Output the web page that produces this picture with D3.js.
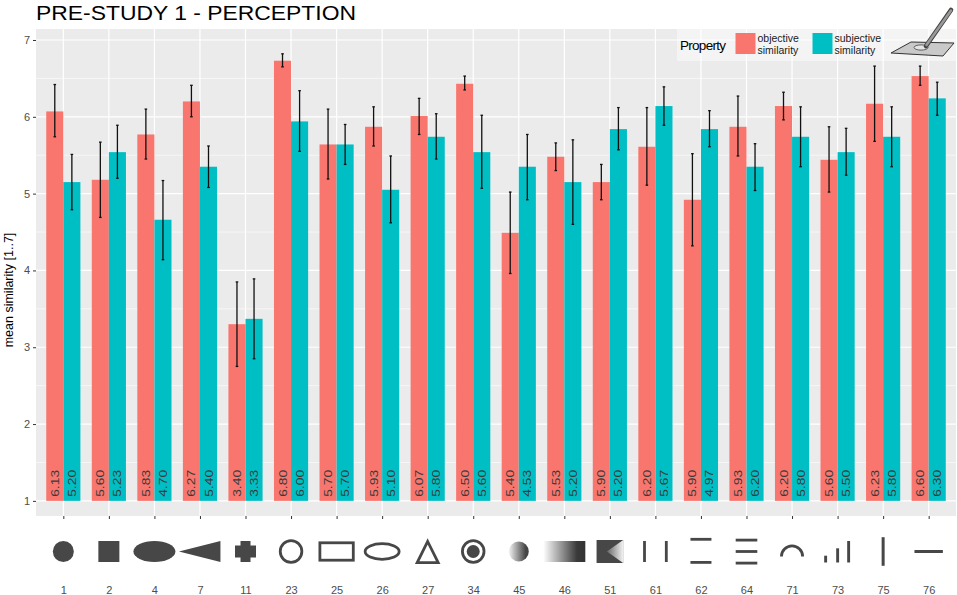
<!DOCTYPE html>
<html>
<head>
<meta charset="utf-8">
<script src="https://cdn.jsdelivr.net/npm/d3@7"></script>
<style>
  body { margin: 0; background: #fff; }
  text { font-family: "Liberation Sans", Arial, sans-serif; }
</style>
</head>
<body>
<svg id="chart" width="957" height="595"></svg>
<script>

// data ------------------------------------------------------
var categories = ["1","2","4","7","11","23","25","26","27","34","45","46","51","61","62","64","71","73","75","76"]

var objMean  = [6.07,5.18,5.77,6.20,3.30,6.73,5.64,5.87,6.01,6.43,4.49,5.48,5.15,5.61,4.92,5.87,6.14,5.44,6.17,6.53]
var objHigh  = [6.42,5.67,6.10,6.41,3.85,6.82,6.10,6.13,6.24,6.53,5.02,5.66,5.38,6.12,5.52,6.27,6.32,5.87,6.66,6.66]
var objLow   = [5.74,4.69,5.45,6.00,2.75,6.65,5.19,5.62,5.77,6.35,3.96,5.30,4.92,5.11,4.32,5.49,5.96,5.02,5.68,6.41]

var subjMean = [5.15,5.54,4.66,5.35,3.37,5.94,5.64,5.05,5.74,5.54,5.35,5.15,5.84,6.14,5.84,5.35,5.74,5.54,5.74,6.24]
var subjHigh = [5.51,5.89,5.17,5.62,3.89,6.34,5.90,5.49,6.04,6.02,5.77,5.70,6.12,6.39,6.08,5.65,6.13,5.85,6.13,6.45]
var subjLow  = [4.79,5.20,4.14,5.08,2.85,5.55,5.38,4.62,5.45,5.07,4.92,4.60,5.57,5.89,5.61,5.04,5.35,5.24,5.35,6.02]

var objLabel  = ["6.13","5.60","5.83","6.27","3.40","6.80","5.70","5.93","6.07","6.50","5.40","5.53","5.90","6.20","5.90","5.93","6.20","5.60","6.23","6.60"]
var subjLabel = ["5.20","5.23","4.70","5.40","3.33","6.00","5.70","5.10","5.80","5.60","4.53","5.20","5.20","5.67","4.97","6.20","5.80","5.50","5.80","6.30"]

var yTicks = [1,2,3,4,5,6,7]
var series = ["objective similarity", "subjective similarity"]

// shape glyph shown under each category
var glyphs = ["disc","square","ellipse","wedge","cross","ring","box","oval","triangle","target",
              "gradDisc","gradBar","notch","twoV","twoH","threeH","arc","steps","vline","hline"]

// -----------------------------------------------------------

var svg = d3.select("#chart")

var panel = {left: 36, right: 956, top: 29, bottom: 516}

var x = d3.scalePoint()
	.domain(categories)
	.range([panel.left, panel.right])
	.padding(0.6)

var y = d3.scaleLinear()
	.domain([0.803, 7.143])
	.range([panel.bottom, panel.top])

var color = d3.scaleOrdinal()
	.domain(series)
	.range(["#F8766D", "#00BFC4"])

var barW = x.step() * 0.375

var rows = categories.map((c, i) => ({
	cat: c,
	vals: [
		{s: series[0], mean: objMean[i], hi: objHigh[i], lo: objLow[i], lab: objLabel[i], off: -1},
		{s: series[1], mean: subjMean[i], hi: subjHigh[i], lo: subjLow[i], lab: subjLabel[i], off: 0}
	]
}))

// panel + grid
svg.append("rect")
	.attr("x", panel.left).attr("y", panel.top)
	.attr("width", panel.right - panel.left).attr("height", panel.bottom - panel.top)
	.attr("fill", "#EBEBEB")

var minor = d3.range(1.5, 7.5, 1)
svg.append("g").selectAll("line").data(minor).enter().append("line")
	.attr("x1", panel.left).attr("x2", panel.right)
	.attr("y1", d => y(d)).attr("y2", d => y(d))
	.attr("stroke", "#fff").attr("stroke-width", 0.6)

svg.append("g").selectAll("line").data(yTicks).enter().append("line")
	.attr("x1", panel.left).attr("x2", panel.right)
	.attr("y1", d => y(d)).attr("y2", d => y(d))
	.attr("stroke", "#fff").attr("stroke-width", 1.2)

svg.append("g").selectAll("line").data(categories).enter().append("line")
	.attr("x1", d => x(d)).attr("x2", d => x(d))
	.attr("y1", panel.top).attr("y2", panel.bottom)
	.attr("stroke", "#fff").attr("stroke-width", 1.2)

// bars
var group = svg.append("g").selectAll("g.cat")
	.data(rows)
	.enter().append("g")
	.attr("class", "cat")
	.attr("transform", d => `translate(${x(d.cat)},0)`)

group.selectAll("rect")
	.data(d => d.vals)
	.enter().append("rect")
	.attr("x", d => d.off * barW)
	.attr("width", barW)
	.attr("y", d => y(d.mean))
	.attr("height", d => y(1) - y(d.mean))
	.attr("fill", d => color(d.s))

// error bars
var err = group.selectAll("g.err")
	.data(d => d.vals)
	.enter().append("g")
	.attr("class", "err")
	.attr("transform", d => `translate(${d.off * barW + barW / 2},0)`)

err.append("line")
	.attr("y1", d => y(d.hi)).attr("y2", d => y(d.lo))
	.attr("stroke", "#111").attr("stroke-width", 1.3)
err.selectAll("line.cap")
	.data(d => [d.hi, d.lo])
	.enter().append("line")
	.attr("class", "cap")
	.attr("x1", -1.3).attr("x2", 1.3)
	.attr("y1", d => y(d)).attr("y2", d => y(d))
	.attr("stroke", "#111").attr("stroke-width", 1.3)

// value labels
group.selectAll("text.val")
	.data(d => d.vals)
	.enter().append("text")
	.attr("class", "val")
	.attr("transform", d => `translate(${d.off * barW + barW / 2 + 4},${y(1) - 4}) rotate(-90)`)
	.attr("font-size", 11.5)
	.attr("textLength", 27)
	.attr("lengthAdjust", "spacingAndGlyphs")
	.attr("fill", "#3a3a3a")
	.text(d => d.lab)

// y axis
var yAxis = svg.append("g")
	.attr("transform", `translate(${panel.left},0)`)
	.call(d3.axisLeft(y).tickValues(yTicks).tickSize(3).tickPadding(3).tickFormat(d3.format("d")))
yAxis.select(".domain").remove()
yAxis.selectAll("line").attr("stroke", "#333")
yAxis.selectAll("text").attr("fill", "#4D4D4D").attr("font-size", 11)
	.style("font-family", "Liberation Sans, Arial, sans-serif")

svg.append("text")
	.attr("transform", `translate(13,290) rotate(-90)`)
	.attr("text-anchor", "middle")
	.attr("font-size", 12.5)
	.attr("fill", "#000")
	.text("mean similarity [1..7]")

// x axis
var xAxis = svg.append("g")
	.attr("transform", `translate(0,${panel.bottom})`)
	.call(d3.axisBottom(x).tickSize(3).tickPadding(67))
xAxis.select(".domain").remove()
xAxis.selectAll("line").attr("stroke", "#333")
xAxis.selectAll("text").attr("fill", "#4D4D4D").attr("font-size", 11)
	.style("font-family", "Liberation Sans, Arial, sans-serif")

// glyph row
var defs = svg.append("defs")
var g1 = defs.append("linearGradient").attr("id", "fadeA")
g1.append("stop").attr("offset", "0%").attr("stop-color", "#f4f4f4")
g1.append("stop").attr("offset", "85%").attr("stop-color", "#444")
var g2 = defs.append("linearGradient").attr("id", "fadeB")
g2.append("stop").attr("offset", "0%").attr("stop-color", "#fff")
g2.append("stop").attr("offset", "80%").attr("stop-color", "#3a3a3a")
g2.append("stop").attr("offset", "100%").attr("stop-color", "#333")
var g3 = defs.append("linearGradient").attr("id", "fadeC")
g3.append("stop").attr("offset", "0%").attr("stop-color", "#666")
g3.append("stop").attr("offset", "100%").attr("stop-color", "#f2f2f2")

var ink = "#474747"
var cy = 551.5

function drawGlyph(sel, kind) {
	var stroke = {fill: "none", stroke: ink, "stroke-width": 2.8}
	var add = (tag, attrs) => {
		var e = sel.append(tag)
		Object.keys(attrs).forEach(k => e.attr(k, attrs[k]))
		return e
	}
	var bar = (x0, y0, w, h) => add("rect", {x: x0, y: y0, width: w, height: h, fill: ink})
	switch (kind) {
		case "disc": add("circle", {r: 10.5, fill: ink}); break
		case "square": bar(-10.5, -10.5, 21, 21); break
		case "ellipse": add("ellipse", {rx: 21, ry: 10.5, fill: ink}); break
		case "wedge": add("path", {d: "M-21,0L20.5,-10.5L20.5,10.5Z", fill: ink}); break
		case "cross":
			add("path", {d: "M-5,-10.5H5V-6H10.5V6H5V10.5H-5V6H-10.5V-6H-5Z", fill: ink}); break
		case "ring": add("circle", Object.assign({r: 10.8}, stroke)); break
		case "box": add("rect", Object.assign({x: -16.7, y: -8.7, width: 33.4, height: 17.4}, stroke)); break
		case "oval": add("ellipse", Object.assign({rx: 17, ry: 7.8}, stroke)); break
		case "triangle": add("path", Object.assign({d: "M0,-10L10.5,11.2L-10.5,11.2Z"}, stroke)); break
		case "target":
			add("circle", Object.assign({r: 10.8}, stroke))
			add("circle", {r: 6.5, fill: ink}); break
		case "gradDisc": add("circle", {r: 10, fill: "url(#fadeA)"}); break
		case "gradBar": add("rect", {x: -21, y: -10.5, width: 42, height: 21, fill: "url(#fadeB)"}); break
		case "notch":
			bar(-13.3, -11.5, 26.6, 23)
			add("path", {d: "M13.3,-11.5L-3,0L13.3,11.5Z", fill: "url(#fadeC)"}); break
		case "twoV": bar(-12.3, -10.5, 2.8, 21); bar(9.5, -10.5, 2.8, 21); break
		case "twoH": bar(-10.5, -13.6, 21, 2.8); bar(-10.5, 9.5, 21, 2.8); break
		case "threeH": bar(-10.8, -12.8, 21.6, 2.8); bar(-10.8, -1.4, 21.6, 2.8); bar(-10.8, 10.2, 21.6, 2.8); break
		case "arc": add("path", Object.assign({d: "M-10.6,5A10.6,10.6 0 0 1 10.6,5"}, stroke)); break
		case "steps": bar(-13.4, 4.2, 2.9, 6.8); bar(-1.4, -3.2, 2.9, 14.2); bar(9.6, -10.5, 2.9, 21.5); break
		case "vline": bar(-1.5, -14.3, 3, 28.6); break
		case "hline": bar(-14.2, -1.5, 28.4, 3); break
	}
}

svg.append("g").selectAll("g.glyph")
	.data(categories)
	.enter().append("g")
	.attr("class", "glyph")
	.attr("transform", d => `translate(${x(d)},${cy})`)
	.each(function(d, i) { drawGlyph(d3.select(this), glyphs[i]) })

// title
svg.append("text")
	.attr("x", 36).attr("y", 20)
	.attr("font-size", 20)
	.attr("textLength", 320)
	.attr("lengthAdjust", "spacingAndGlyphs")
	.attr("fill", "#000")
	.text("PRE-STUDY 1 - PERCEPTION")

// legend
var legend = svg.append("g")
legend.append("rect")
	.attr("x", 677).attr("y", 29).attr("width", 279).attr("height", 32)
	.attr("fill", "#fff").attr("fill-opacity", 0.45)

legend.append("text")
	.attr("x", 680).attr("y", 50)
	.attr("font-size", 13.5)
	.attr("textLength", 46)
	.attr("fill", "#000")
	.text("Property")

var keys = legend.selectAll("g.key")
	.data(series)
	.enter().append("g")
	.attr("class", "key")
	.attr("transform", (d, i) => `translate(${735.5 + i * 77},33)`)

keys.append("rect")
	.attr("width", 20).attr("height", 21)
	.attr("fill", d => color(d))

keys.selectAll("text")
	.data(d => d.split(" "))
	.enter().append("text")
	.attr("x", 22)
	.attr("y", (d, i) => 8.5 + i * 12.5)
	.attr("font-size", 10.5)
	.attr("fill", "#1a1a1a")
	.text(d => d)

// tablet + pen icon
var icon = svg.append("g")
icon.append("path")
	.attr("d", "M891,53L911,42L954,43L943,56Z")
	.attr("fill", "#c9c9c9").attr("stroke", "#333").attr("stroke-width", 1)
icon.append("ellipse")
	.attr("cx", 921).attr("cy", 47.5).attr("rx", 7).attr("ry", 2.6)
	.attr("fill", "#e4e4e4").attr("stroke", "#444").attr("stroke-width", 0.8)
icon.append("line")
	.attr("x1", 926).attr("y1", 46).attr("x2", 951).attr("y2", 10)
	.attr("stroke", "#444").attr("stroke-width", 4.6).attr("stroke-linecap", "round")
icon.append("line")
	.attr("x1", 926.5).attr("y1", 45).attr("x2", 951).attr("y2", 10.5)
	.attr("stroke", "#9a9a9a").attr("stroke-width", 2.6).attr("stroke-linecap", "round")

</script>
</body>
</html>
